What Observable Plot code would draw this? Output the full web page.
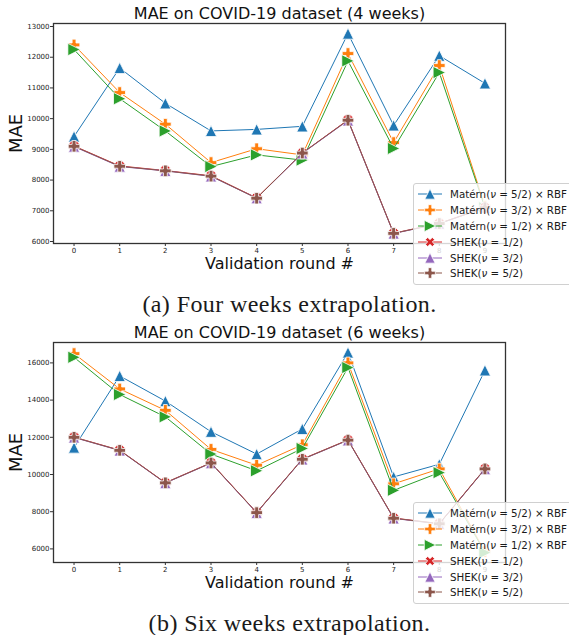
<!DOCTYPE html>
<html>
<head>
<meta charset="utf-8">
<script src="https://cdn.jsdelivr.net/npm/d3@7"></script>
<script src="https://cdn.jsdelivr.net/npm/@observablehq/plot@0.6"></script>
<style>
  html, body { margin: 0; padding: 0; background: #fff; }
  #page { position: relative; width: 569px; height: 635px; overflow: hidden; font-family: "DejaVu Sans", sans-serif; }
  .chart { position: absolute; left: 0; }
  .caption { position: absolute; left: 0; width: 579px; text-align: center; font-family: "Liberation Serif", serif; font-size: 24px; letter-spacing: 0.4px; color: #1a1a1a; line-height: 1; }
  .legend { position: absolute; left: 413px; width: 180px; background: rgba(255,255,255,0.8); border: 1px solid #d0d0d0; border-radius: 3px; padding: 2px 0 3px 0; box-sizing: border-box; }
  .legend .row { display: flex; align-items: center; height: 15.9px; font-size: 10.3px; color: #1a1a1a; white-space: nowrap; }
  .legend svg { width: 32px; height: 16px; margin-left: 2px; margin-right: 2px; flex: none; }
</style>
</head>
<body>
<div id="page"></div>
<script>
// ---------- data ----------
const rounds = [0, 1, 2, 3, 4, 5, 6, 7, 8, 9];
const seriesNames = [
  "Matérn(ν = 5/2) × RBF",
  "Matérn(ν = 3/2) × RBF",
  "Matérn(ν = 1/2) × RBF",
  "SHEK(ν = 1/2)",
  "SHEK(ν = 3/2)",
  "SHEK(ν = 5/2)"
];
const seriesColors = ["#1f77b4", "#ff7f0e", "#2ca02c", "#d62728", "#9467bd", "#8c564b"];
const seriesMarkers = ["triUp", "plusP", "triRight", "xX", "triUp", "plusP"];

// 4 weeks
const matern52_4w = [9420, 11650, 10500, 9600, 9650, 9750, 12770, 9780, 12050, 11150];
const matern32_4w = [12400, 10850, 9820, 8570, 9020, 8820, 12120, 9220, 11730, 7150];
const matern12_4w = [12250, 10650, 9600, 8440, 8820, 8650, 11880, 9030, 11500, 7100];
const shek12_4w   = [9110, 8460, 8310, 8140, 7420, 8880, 9960, 6270, 6590, 7110];
const shek32_4w   = [9090, 8440, 8300, 8120, 7410, 8870, 9940, 6260, 6580, 7100];
const shek52_4w   = [9100, 8450, 8300, 8130, 7410, 8880, 9950, 6265, 6585, 7100];
const yTicks_4w = [6000, 7000, 8000, 9000, 10000, 11000, 12000, 13000];

// 6 weeks
const matern52_6w = [11450, 15300, 13950, 12300, 11100, 12450, 16560, 9870, 10550, 15600];
const matern32_6w = [16500, 14600, 13450, 11350, 10500, 11600, 16000, 9500, 10300, 5850];
const matern12_6w = [16300, 14300, 13100, 11100, 10200, 11400, 15750, 9150, 10100, 5800];
const shek12_6w   = [12010, 11310, 9560, 10630, 7960, 10830, 11860, 7660, 7360, 10310];
const shek32_6w   = [11990, 11290, 9540, 10610, 7940, 10810, 11840, 7640, 7340, 10290];
const shek52_6w   = [12000, 11300, 9550, 10620, 7950, 10820, 11850, 7650, 7350, 10300];
const yTicks_6w = [6000, 8000, 10000, 12000, 14000, 16000];

const titles = ["MAE on COVID-19 dataset (4 weeks)", "MAE on COVID-19 dataset (6 weeks)"];
const xLabel = "Validation round #";
const yLabel = "MAE";
const captions = ["(a) Four weeks extrapolation.", "(b) Six weeks extrapolation."];

// ---------- marker symbols (matplotlib-like) ----------
function rad(size) { return Math.sqrt(size / Math.PI); }
const symbols = {
  triUp: { draw(c, size) { const r = rad(size); c.moveTo(0, -r); c.lineTo(r, r); c.lineTo(-r, r); c.closePath(); } },
  triRight: { draw(c, size) { const r = rad(size); c.moveTo(r, 0); c.lineTo(-r, r); c.lineTo(-r, -r); c.closePath(); } },
  plusP: { draw(c, size) { const r = rad(size), a = r / 3;
    const pts = [[-a,-r],[a,-r],[a,-a],[r,-a],[r,a],[a,a],[a,r],[-a,r],[-a,a],[-r,a],[-r,-a],[-a,-a]];
    pts.forEach((p, i) => i ? c.lineTo(p[0], p[1]) : c.moveTo(p[0], p[1])); c.closePath(); } },
  xX: { draw(c, size) { const r = rad(size) * 0.95, a = r / 3, k = Math.SQRT1_2;
    const pts = [[-a,-r],[a,-r],[a,-a],[r,-a],[r,a],[a,a],[a,r],[-a,r],[-a,a],[-r,a],[-r,-a],[-a,-a]];
    pts.forEach((p, i) => { const x = (p[0] - p[1]) * k, y = (p[0] + p[1]) * k; i ? c.lineTo(x, y) : c.moveTo(x, y); }); c.closePath(); } }
};
const markerR = [5.6, 5.8, 6.2, 5.6, 5.6, 5.8];

function makeChart(valuesList, yTicks, yDomain, title) {
  const rows = [];
  valuesList.forEach((vals, s) => vals.forEach((v, i) => rows.push({ round: rounds[i], mae: v, s })));
  const marks = [
    Plot.axisX({ ticks: rounds, tickSize: 3, tickPadding: 1.5, tickFormat: d3.format("d"), label: null, stroke: "#333" }),
    Plot.axisY({ ticks: yTicks, tickSize: 3, tickPadding: 1, tickFormat: d3.format("d"), label: null, stroke: "#333" })
  ];
  valuesList.forEach((vals, s) => {
    const d = rows.filter(r => r.s === s);
    marks.push(Plot.line(d, { x: "round", y: "mae", stroke: seriesColors[s], strokeWidth: 1 }));
    marks.push(Plot.dot(d, { x: "round", y: "mae", symbol: symbols[seriesMarkers[s]], r: markerR[s], fill: seriesColors[s], stroke: "white", strokeWidth: 0.8 }));
  });
  marks.push(Plot.frame({ stroke: "#333", strokeWidth: 1.3 }));
  marks.push(Plot.text([title], { text: d => d, frameAnchor: "top", lineAnchor: "middle", dy: -9.5, fontSize: 16, fill: "#111" }));
  marks.push(Plot.text([xLabel], { text: d => d, frameAnchor: "bottom", lineAnchor: "middle", dy: 20.5, fontSize: 16, fill: "#111" }));
  marks.push(Plot.text([yLabel], { text: d => d, frameAnchor: "left", lineAnchor: "middle", dx: -37, rotate: -90, textAnchor: "middle", fontSize: 18, fill: "#111" }));
  return Plot.plot({
    width: 569, height: 290,
    marginTop: 23, marginBottom: 47, marginLeft: 53, marginRight: 64,
    x: { domain: [-0.45, 9.45] },
    y: { domain: yDomain },
    style: { fontFamily: "DejaVu Sans", fontSize: "7px", color: "#222", background: "transparent", overflow: "visible" },
    marks
  });
}

function makeLegend(top) {
  const div = document.createElement("div");
  div.className = "legend";
  div.style.top = top + "px";
  seriesNames.forEach((name, s) => {
    const row = document.createElement("div");
    row.className = "row";
    const svg = d3.create("svg").attr("viewBox", "0 0 32 16");
    svg.append("line").attr("x1", 2).attr("x2", 26).attr("y1", 8).attr("y2", 8).attr("stroke", seriesColors[s]).attr("stroke-width", 1);
    const p = d3.path();
    const r = markerR[s] * 0.92;
    symbols[seriesMarkers[s]].draw(p, r * r * Math.PI);
    svg.append("path").attr("d", p.toString()).attr("transform", "translate(14,8)")
      .attr("fill", seriesColors[s]).attr("stroke", "white").attr("stroke-width", 0.8);
    row.appendChild(svg.node());
    const span = document.createElement("span");
    const parts = name.split("ν");
    span.append(parts[0]);
    const it = document.createElement("i"); it.textContent = "ν"; span.append(it);
    span.append(parts[1]);
    row.appendChild(span);
    div.appendChild(row);
  });
  return div;
}

const page = document.getElementById("page");

const c1 = makeChart([matern52_4w, matern32_4w, matern12_4w, shek12_4w, shek32_4w, shek52_4w], yTicks_4w, [5935, 13098], titles[0]);
c1.classList.add("chart"); c1.style.top = "0px";
page.appendChild(c1);

const c2 = makeChart([matern52_6w, matern32_6w, matern12_6w, shek12_6w, shek32_6w, shek52_6w], yTicks_6w, [5269, 17097], titles[1]);
c2.classList.add("chart"); c2.style.top = "319.3px";
page.appendChild(c2);

page.appendChild(makeLegend(183));
page.appendChild(makeLegend(502));

captions.forEach((t, i) => {
  const d = document.createElement("div");
  d.className = "caption";
  d.textContent = t;
  d.style.top = (i === 0 ? 292 : 611) + "px";
  page.appendChild(d);
});
</script>
</body>
</html>
